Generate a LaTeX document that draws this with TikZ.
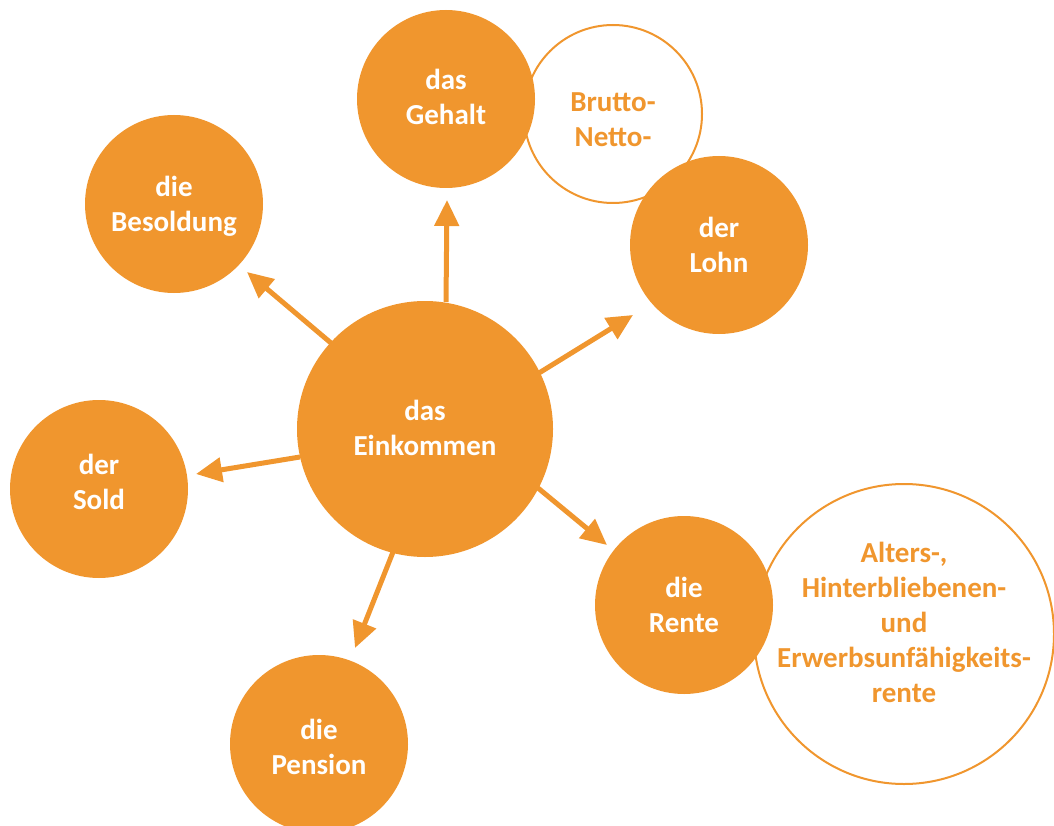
\documentclass[tikz,border=0pt]{standalone}
\usepackage{fontspec}
\setmainfont{Carlito}
\usetikzlibrary{arrows.meta}
\definecolor{org}{RGB}{240,150,46}
\begin{document}
\begin{tikzpicture}[x=1pt,y=-1pt,
  fillc/.style={circle,fill=org,text=white,minimum size=178pt,inner sep=0pt,align=center,
    font=\fontsize{29}{35}\selectfont\bfseries},
  bigc/.style={fillc,minimum size=256pt},
  ringc/.style={circle,draw=org,line width=2pt,fill=white,text=org,inner sep=0pt,align=center,
    font=\fontsize{29}{35}\selectfont\bfseries},
  ringtext/.style={text=org,font=\fontsize{29}{35}\selectfont\bfseries,align=center},
  arr/.style={draw=org,line width=5pt,-{Triangle[length=26pt,width=24pt]}}]
\useasboundingbox (0,0) rectangle (1054,826);
% outline circles (behind)
\node[ringc,minimum size=178pt] (bn) at (613,114) {};
\node[ringtext] (bnt) at (613,120) {Brutto-\\Netto-};
\node[ringc,minimum size=300pt] (alt) at (904,634) {};
\node[ringtext] (altt) at (904,622)
  {Alters-,\\Hinterbliebenen-\\und\\Erwerbsunfähigkeits-\\rente};
% coordinates
\coordinate (sG) at (446,302); \coordinate (tG) at (447,200);
\coordinate (sB) at (331,343); \coordinate (tB) at (247,272);
\coordinate (sS) at (300,457); \coordinate (tS) at (196,474);
\coordinate (sL) at (539,373); \coordinate (tL) at (633,315);
\coordinate (sR) at (538,488); \coordinate (tR) at (607,545);
\coordinate (sP) at (393,552); \coordinate (tP) at (355,648);
\draw[arr] (sG) -- (tG);
\draw[arr] (sB) -- (tB);
\draw[arr] (sS) -- (tS);
\draw[arr] (sL) -- (tL);
\draw[arr] (sR) -- (tR);
\draw[arr] (sP) -- (tP);
% filled circles
\node[bigc] (E) at (425,429) {das\\Einkommen\rule[-2pt]{0pt}{0pt}};
\node[fillc] (G) at (446,99) {das\\Gehalt\rule[-5pt]{0pt}{0pt}};
\node[fillc] (L) at (719,245) {der\\Lohn};
\node[fillc] (B) at (174,204) {die\rule{0pt}{24pt}\\Besoldung};
\node[fillc] (S) at (99,489) {der\\Sold\rule[-14pt]{0pt}{0pt}};
\node[fillc] (P) at (319,744) {die\rule{0pt}{26pt}\\Pension};
\node[fillc] (R) at (684,605) {die\\Rente};
\end{tikzpicture}
\end{document}
